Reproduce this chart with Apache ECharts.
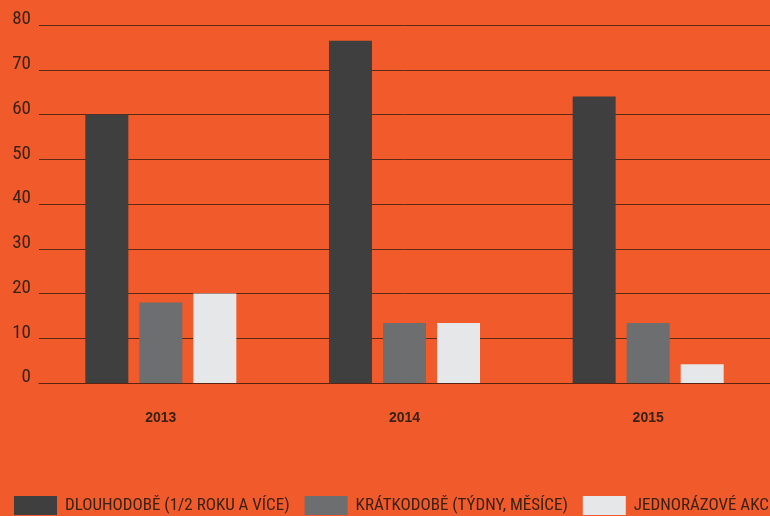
<!DOCTYPE html>
<html>
<head>
<meta charset="utf-8">
<script src="https://cdn.jsdelivr.net/npm/echarts@6/dist/echarts.min.js"></script>
<style>
  html, body { margin: 0; padding: 0; background: #f15a2b; }
  #chart { width: 770px; height: 516px; }
</style>
</head>
<body>
<div id="chart"></div>
<script>
const years = ['2013', '2014', '2015']
const seriesNames = ['DLOUHODOBĚ (1/2 ROKU A VÍCE)', 'KRÁTKODOBĚ (TÝDNY, MĚSÍCE)', 'JEDNORÁZOVÉ AKCE']
const longTerm = [60, 76.5, 64]
const shortTerm = [18, 13.4, 13.4]
const oneOff = [20, 13.4, 4.2]

const font = "'Liberation Sans Narrow', 'Roboto Condensed', 'Liberation Sans', sans-serif"
const textColor = '#3a2216'
const colors = ['#3f3f3f', '#6d6e70', '#e6e7e8']

const chart = echarts.init(document.getElementById('chart'))

const option = {
  backgroundColor: '#f15a2b',
  animation: false,
  grid: { left: 39, right: -1, top: 25, bottom: 133 },
  legend: {
    left: 14,
    top: 496,
    width: 2000,
    padding: 0,
    itemWidth: 43,
    itemHeight: 19,
    itemGap: 15,
    icon: 'rect',
    textStyle: { fontFamily: font, fontSize: 17, color: textColor, padding: [2, 0, 0, 3] },
    data: seriesNames
  },
  xAxis: {
    type: 'category',
    data: years,
    axisLine: { lineStyle: { color: '#5a2410', width: 1 } },
    axisTick: { show: false },
    axisLabel: { margin: 28, fontFamily: "'Liberation Sans', sans-serif", fontWeight: 'bold', fontSize: 14, color: textColor }
  },
  yAxis: {
    type: 'value',
    min: 0,
    max: 80,
    interval: 10,
    axisLine: { show: false },
    axisTick: { show: false },
    splitLine: { lineStyle: { color: '#5e2a14', width: 1 } },
    axisLabel: {
      margin: 8, fontFamily: font, fontSize: 19, color: textColor,
      verticalAlign: 'bottom', lineHeight: 11
    }
  },
  series: [
    { name: seriesNames[0], type: 'bar', data: longTerm, barWidth: 43, barGap: '25.6%', itemStyle: { color: colors[0] } },
    { name: seriesNames[1], type: 'bar', data: shortTerm, barWidth: 43, itemStyle: { color: colors[1] } },
    { name: seriesNames[2], type: 'bar', data: oneOff, barWidth: 43, itemStyle: { color: colors[2] } }
  ]
}

chart.setOption(option)
</script>
</body>
</html>
